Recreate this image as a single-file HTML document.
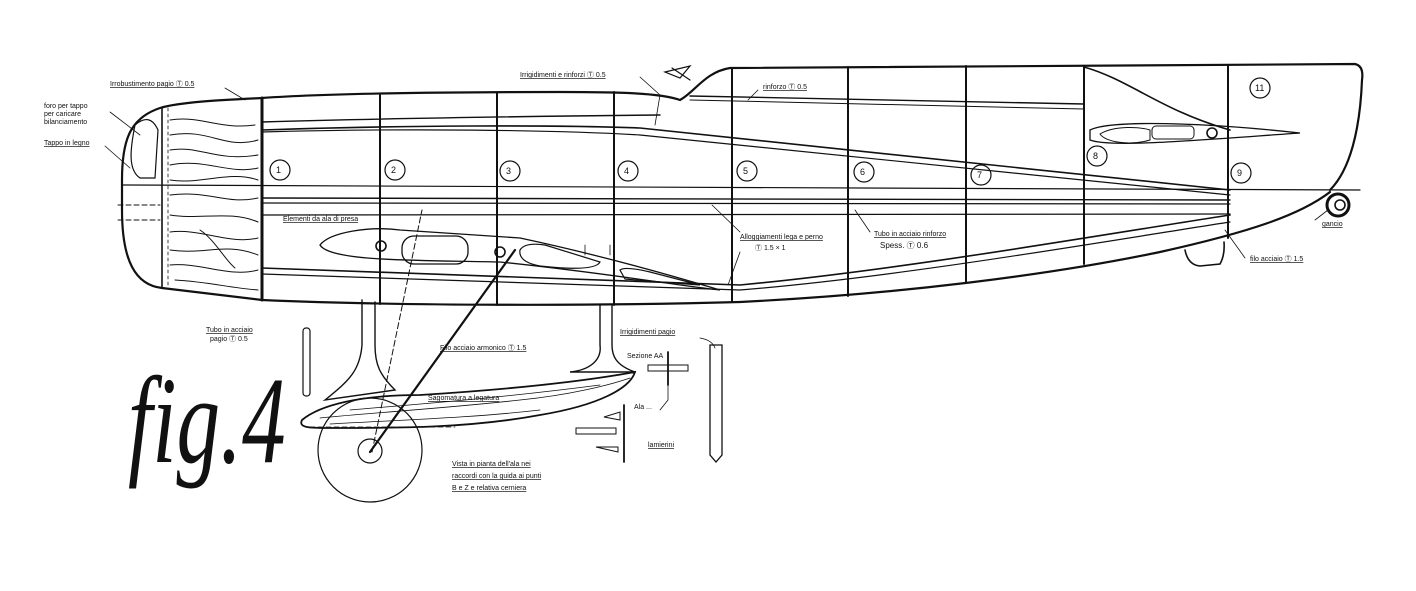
<!DOCTYPE html>
<html><head><meta charset="utf-8"><style>
html,body{margin:0;padding:0;background:#fff;}
svg{display:block}
text{font-family:"Liberation Sans",sans-serif;font-size:7px;fill:#111}
</style></head><body>
<svg width="1416" height="591" viewBox="0 0 1416 591" xmlns="http://www.w3.org/2000/svg">
<g fill="none" stroke="#111" stroke-width="1.6" stroke-linecap="round">
<path d="M262,98 C320,94 420,92 560,92 C620,92 660,93 680,100 C695,92 705,72 730,68 L1355,64 Q1364,66 1362,80 C1360,130 1350,170 1330,190" stroke-width="2.2"/>
<path d="M262,98 C220,100 180,102 160,108 C130,118 122,140 122,180 L122,210 C122,260 135,285 162,288 L262,300 C400,306 600,306 740,302 C900,294 1050,275 1160,252 C1250,232 1300,215 1330,192" stroke-width="2.2"/>
<line x1="162" y1="108" x2="162" y2="288"/>
<line x1="168" y1="108" x2="168" y2="288" stroke-width="0.8" stroke-dasharray="3,3"/>
<line x1="262" y1="98" x2="262" y2="300" stroke-width="3"/>
<path d="M135,125 C130,150 128,170 140,178 L155,178 L158,130 Q150,112 135,125Z" stroke-width="1.2"/>
<g stroke-width="1">
<path d="M170,120 C200,115 220,130 255,125"/><path d="M170,135 C210,128 225,150 258,140"/>
<path d="M170,150 C200,145 215,162 258,155"/><path d="M170,165 C205,158 230,175 258,168"/>
<path d="M170,180 C200,185 230,170 258,180"/><path d="M170,195 C210,190 225,205 258,198"/>
<path d="M170,215 C200,220 230,210 258,222"/><path d="M170,232 C200,228 230,245 258,238"/>
<path d="M170,250 C205,255 225,242 258,255"/><path d="M170,265 C200,262 230,278 258,270"/>
<path d="M175,280 C210,282 230,288 258,290"/><path d="M200,230 C215,240 225,260 235,268"/>
</g>
<g stroke-width="2">
<line x1="380" y1="95" x2="380" y2="304"/><line x1="497" y1="93" x2="497" y2="305"/>
<line x1="614" y1="92" x2="614" y2="305"/><line x1="732" y1="68" x2="732" y2="302"/>
<line x1="848" y1="67" x2="848" y2="296"/><line x1="966" y1="66" x2="966" y2="283"/>
<line x1="1084" y1="66" x2="1084" y2="264"/><line x1="1228" y1="65" x2="1228" y2="238"/>
</g>
<path d="M262,122 C400,118 560,116 660,115" stroke-width="1.4"/>
<path d="M262,130 C400,125 560,125 640,128 L1230,190" stroke-width="1.6"/>
<path d="M262,132 C400,128 560,130 640,135 L1230,195" stroke-width="1.2"/>
<path d="M690,96 L1084,104" stroke-width="1.4"/>
<path d="M690,100 L1084,109" stroke-width="1"/>
<line x1="122" y1="185" x2="1360" y2="190" stroke-width="1.2"/>
<line x1="262" y1="198" x2="1230" y2="200" stroke-width="1.4"/>
<line x1="262" y1="203" x2="1230" y2="204" stroke-width="1.2"/>
<line x1="262" y1="215" x2="1230" y2="214" stroke-width="1.2"/>
<line x1="118" y1="205" x2="160" y2="205" stroke-width="1" stroke-dasharray="5,3"/>
<line x1="118" y1="220" x2="160" y2="220" stroke-width="1" stroke-dasharray="5,3"/>
<path d="M262,268 C450,275 600,280 740,285 C900,270 1100,235 1230,215" stroke-width="1.6"/>
<path d="M262,274 C450,281 600,286 740,290 C900,277 1100,242 1230,222" stroke-width="1.2"/>
<path d="M320,245 C330,232 370,226 400,230 L520,238 C600,255 680,278 720,290 C680,286 600,272 500,262 C420,260 330,262 320,245Z" stroke-width="1.3"/>
<rect x="402" y="236" width="66" height="28" rx="12" stroke-width="1.3"/>
<path d="M520,250 Q525,242 545,245 L600,262 Q595,272 540,266 Q518,262 520,250Z" stroke-width="1.2"/>
<path d="M620,270 Q625,266 650,272 L700,285 Q660,282 625,279Z" stroke-width="1.2"/>
<circle cx="381" cy="246" r="5"/><circle cx="500" cy="252" r="5"/>
<path d="M1090,130 C1110,120 1200,122 1300,133 C1200,140 1110,148 1090,140Z" stroke-width="1.3"/>
<path d="M1100,134 C1115,125 1140,127 1150,130 L1150,140 C1130,146 1105,142 1100,134Z" stroke-width="1"/>
<rect x="1152" y="126" width="42" height="13" rx="4" stroke-width="1"/>
<circle cx="1212" cy="133" r="5"/>
<path d="M1084,67 C1130,80 1160,110 1230,130"/>
<path d="M1185,250 Q1188,265 1200,266 L1220,264 Q1225,255 1224,242" stroke-width="1.6"/>
<circle cx="1338" cy="205" r="11" stroke-width="3"/><circle cx="1340" cy="205" r="5"/>
<path d="M665,72 L690,66 L680,78Z M672,68 L690,80" stroke-width="1.2"/>
<g stroke-width="0.8">
<path d="M640,77 L660,95 L655,125"/><path d="M225,88 L245,100"/><path d="M110,112 L140,135"/><path d="M105,146 L130,168"/>
<path d="M758,90 L748,100"/><path d="M712,205 L740,232"/><path d="M740,252 L728,285"/>
<path d="M855,210 L870,232"/><path d="M1225,230 L1245,258"/><path d="M1315,220 L1328,210"/>
<path d="M585,245 L585,255"/><path d="M610,245 L610,255"/>
</g>
<g stroke-width="1.2">
<circle cx="280" cy="170" r="10"/><circle cx="395" cy="170" r="10"/><circle cx="510" cy="171" r="10"/>
<circle cx="628" cy="171" r="10"/><circle cx="747" cy="171" r="10"/><circle cx="864" cy="172" r="10"/>
<circle cx="981" cy="175" r="10"/><circle cx="1097" cy="156" r="10"/><circle cx="1241" cy="173" r="10"/>
<circle cx="1260" cy="88" r="10"/>
</g>
<path d="M362,300 L362,345 C360,370 350,380 325,400 L395,390 C380,375 375,365 375,345 L375,302" stroke-width="1.4"/>
<path d="M600,305 L600,345 C602,360 590,370 570,372 L635,372 C615,365 612,355 612,345 L612,305" stroke-width="1.4"/>
<path d="M302,420 C320,405 360,395 420,395 C500,390 580,382 635,372 C630,388 600,405 540,415 C470,428 400,428 330,428 C310,428 298,428 302,420Z" stroke-width="1.8"/>
<g stroke-width="0.8"><path d="M320,418 C380,412 450,408 520,400 C570,395 610,385 630,378"/><path d="M330,424 C400,420 470,418 540,410"/><path d="M350,410 C420,404 500,398 600,385"/></g>
<circle cx="370" cy="450" r="52" stroke-width="1.2"/><circle cx="370" cy="451" r="12" stroke-width="1.2"/>
<line x1="370" y1="452" x2="515" y2="250" stroke-width="2.2"/>
<line x1="372" y1="452" x2="422" y2="210" stroke-width="1" stroke-dasharray="6,3"/>
<line x1="310" y1="427" x2="455" y2="427" stroke-width="0.8" stroke-dasharray="5,3"/>
<rect x="303" y="328" width="7" height="68" rx="3" stroke-width="1.2"/>
<path d="M710,345 L722,345 L722,455 L716,462 L710,455Z" stroke-width="1.3"/>
<path d="M700,338 Q712,340 715,348" stroke-width="0.8"/>
<line x1="668" y1="352" x2="668" y2="385" stroke-width="1.8"/>
<rect x="648" y="365" width="40" height="6" stroke-width="1"/>
<path d="M668,385 L668,400 L660,410" stroke-width="0.8"/>
<line x1="624" y1="405" x2="624" y2="462" stroke-width="1.8"/>
<rect x="576" y="428" width="40" height="6" stroke-width="1"/>
<path d="M604,417 L620,412 L620,420Z M596,447 L618,447 L618,452 Z" stroke-width="1"/>
</g>
<text transform="translate(128,462) scale(0.74,1.05)" x="0" y="0" style="font-family:'Liberation Serif',serif;font-style:italic;font-size:118px;fill:#111">fig.4</text>
<text x="110" y="86" style="text-decoration:underline">Irrobustimento pagio Ⓣ 0.5</text>
<text x="520" y="77" style="text-decoration:underline">Irrigidimenti e rinforzi Ⓣ 0.5</text>
<text x="763" y="89" style="text-decoration:underline">rinforzo Ⓣ 0.5</text>
<text x="44" y="108">foro per tappo</text><text x="44" y="116">per caricare</text><text x="44" y="124">bilanciamento</text>
<text x="44" y="145" style="text-decoration:underline">Tappo in legno</text>
<text x="283" y="221" style="text-decoration:underline">Elementi da ala di presa</text>
<text x="740" y="239" style="text-decoration:underline">Alloggiamenti lega e perno</text>
<text x="755" y="250">Ⓣ 1.5 × 1</text>
<text x="874" y="236" style="text-decoration:underline">Tubo in acciaio rinforzo</text>
<text x="880" y="248" style="font-size:8px">Spess. Ⓣ 0.6</text>
<text x="1250" y="261" style="text-decoration:underline">filo acciaio Ⓣ 1.5</text>
<text x="1322" y="226" style="text-decoration:underline">gancio</text>
<text x="206" y="332" style="text-decoration:underline">Tubo in acciaio</text>
<text x="210" y="341">pagio Ⓣ 0.5</text>
<text x="440" y="350" style="text-decoration:underline">Filo acciaio armonico Ⓣ 1.5</text>
<text x="428" y="400" style="text-decoration:underline">Sagomatura a legatura</text>
<text x="620" y="334" style="text-decoration:underline">Irrigidimenti pagio</text>
<text x="627" y="358">Sezione AA</text>
<text x="634" y="409">Ala ...</text>
<text x="648" y="447" style="text-decoration:underline">lamierini</text>
<text x="452" y="466" style="text-decoration:underline">Vista in pianta dell'ala nei</text>
<text x="452" y="478" style="text-decoration:underline">raccordi con la guida ai punti</text>
<text x="452" y="490" style="text-decoration:underline">B e Z e relativa cerniera</text>
<text x="276" y="173" style="font-size:9px">1</text><text x="391" y="173" style="font-size:9px">2</text>
<text x="506" y="174" style="font-size:9px">3</text><text x="624" y="174" style="font-size:9px">4</text>
<text x="743" y="174" style="font-size:9px">5</text><text x="860" y="175" style="font-size:9px">6</text>
<text x="977" y="178" style="font-size:9px">7</text><text x="1093" y="159" style="font-size:9px">8</text>
<text x="1237" y="176" style="font-size:9px">9</text><text x="1255" y="91" style="font-size:9px">11</text>
</svg>
</body></html>
